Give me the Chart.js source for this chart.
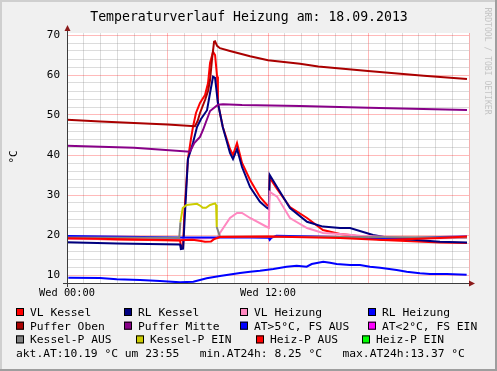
<!DOCTYPE html>
<html>
<head>
<meta charset="utf-8">
<script src="https://cdn.jsdelivr.net/npm/chart.js@4.4.0/dist/chart.umd.min.js"></script>
<style>
  html, body { margin: 0; padding: 0; background: #f0f0f0; }
  canvas { display: block; }
</style>
</head>
<body>
<canvas id="tempChart" width="497" height="371"></canvas>
<script>
// x = hours since 00:00 on 18.09.2013, y = temperature in °C
var vlKessel = [[0,19.2],[3,18.9],[6.75,18.6],[6.82,16.8],[6.93,17.0],[7.0,25],[7.22,39],[7.4,44],[7.52,47],[7.7,50.5],[7.94,53],[8.06,53.8],[8.24,55],[8.42,58],[8.54,63],[8.72,65.8],[8.84,65],[8.96,59.6],[9.01,53],[9.3,47],[9.73,41.5],[9.91,40],[10.15,43],[10.45,38],[10.93,33.75],[11.52,29.5],[11.94,27.5],[12.05,27.2],[12.1,34.3],[12.54,31.5],[13.31,27],[14.33,24.25],[15.28,21.25],[16.3,20.25],[16.9,20],[18.87,18.75],[22.27,18.1],[23.88,18]];
var rlKessel = [[0,18.2],[3,17.9],[6.75,17.6],[6.8,16.5],[6.93,16.6],[7.0,22],[7.22,39],[7.34,40.5],[7.52,43],[7.76,47],[8.0,49],[8.36,51.2],[8.54,55.5],[8.72,59.6],[8.84,59.3],[9.01,53],[9.3,47],[9.73,40.5],[9.91,39],[10.15,41.5],[10.45,37],[10.93,32],[11.52,28.3],[11.94,26.75],[12.05,26.5],[12.1,35],[12.54,32],[13.31,26.75],[14.33,23.3],[15.28,22.1],[16.3,21.75],[16.9,21.75],[18.27,20],[19.28,19.25],[22.27,18.3],[23.88,18.1]];
var vlHeizung = [[0,19.0],[6.75,18.9],[9.0,19.3],[9.13,20.5],[9.73,24.25],[10.15,25.5],[10.45,25.5],[10.93,24.25],[11.94,22],[12.05,21.8],[12.1,30.8],[12.54,29.6],[13.31,24.25],[14.33,21.75],[15.28,20.5],[16.3,20.25],[17.5,19.8],[20,19.4],[22.3,19.2],[23.88,19.3]];
var rlHeizung = [[0,19.75],[6.75,19.4],[10.93,19.4],[12.05,19.3],[12.1,18.8],[12.2,19.3],[12.5,19.8],[16.3,19.5],[19.28,19.0],[22.27,19.5],[23.88,19.6]];
var pufferOben = [[0,48.8],[2,48.4],[4,48.0],[6,47.6],[7.64,47.2],[7.8,48.5],[7.94,50.5],[8.24,53.75],[8.42,56],[8.54,58.75],[8.66,64],[8.78,68.3],[8.84,68.4],[8.96,67.3],[9.13,66.7],[9.73,66.0],[10.93,64.7],[12,63.7],[13.91,62.8],[15,62.1],[17.97,61],[21.3,59.8],[23.88,59.0]];
var pufferMitte = [[0,42.3],[4,41.8],[7.34,40.8],[7.6,43],[7.94,44.5],[8.12,46.25],[8.54,51],[9.01,52.6],[9.31,52.7],[10.45,52.5],[13.91,52.25],[18,51.8],[23.88,51.25]];
var atAus = [[0.08,9.33],[1.97,9.25],[2.97,8.92],[4.36,8.75],[5.55,8.5],[6.75,8.17],[7.54,8.33],[8.34,9.17],[9.13,9.75],[9.93,10.25],[10.33,10.5],[10.93,10.83],[11.52,11.08],[12.32,11.5],[13.11,12.08],[13.71,12.33],[14.31,12.08],[14.61,12.75],[15.3,13.3],[15.7,13.08],[16.1,12.75],[16.9,12.5],[17.49,12.5],[18.09,12.08],[18.69,11.83],[19.68,11.25],[20.28,10.83],[21.07,10.42],[21.67,10.25],[22.67,10.25],[23.86,10.08]];
var atEin = [];
var kesselPAus = [[0,19.4],[6.7,19.3],[6.77,23.2],[6.8,null],[8.94,22],[9.13,19.6],[23.88,19.4]];
var kesselPEin = [[6.77,23.2],[6.91,26.75],[7.14,27.5],[7.76,27.8],[8.0,27.2],[8.1,26.8],[8.3,26.8],[8.54,27.5],[8.84,27.9],[8.9,27.5],[8.94,22]];
var heizPAus = [[0,19.2],[6.75,18.7],[7.5,18.8],[8.0,18.5],[8.24,18.3],[8.6,18.4],[8.8,19.0],[9.13,19.5],[12,19.6],[16.3,19.25],[18.87,18.75],[22.27,19.25],[23.88,19.6]];
var heizPEin = [];

var seriesNames = ['VL Kessel', 'RL Kessel', 'VL Heizung', 'RL Heizung', 'Puffer Oben', 'Puffer Mitte',
  'AT>5°C, FS AUS', 'AT<2°C, FS EIN', 'Kessel-P AUS', 'Kessel-P EIN', 'Heiz-P AUS', 'Heiz-P EIN'];
var seriesData = [vlKessel, rlKessel, vlHeizung, rlHeizung, pufferOben, pufferMitte,
  atAus, atEin, kesselPAus, kesselPEin, heizPAus, heizPEin];
var seriesColors = ['#ff0000', '#000080', '#ff88c0', '#0000ff', '#aa0000', '#880088',
  '#0000ff', '#ff00ff', '#808080', '#cccc00', '#ff0000', '#00ff00'];

var xTickHours = [0, 12];
var xTickText = ['Wed 00:00', 'Wed 12:00'];
var yTickLabels = [10, 20, 30, 40, 50, 60, 70];

var titleText = 'Temperaturverlauf Heizung am: 18.09.2013';
var statsText = 'akt.AT:10.19 °C um 23:55   min.AT24h: 8.25 °C   max.AT24h:13.37 °C';

// legend swatch positions (x, text baseline)
var legendPos = [[16,316],[124,316],[240,316],[368,316],
                 [16,329.7],[124,329.7],[240,329.7],[368,329.7],
                 [16,343.4],[136,343.4],[256,343.4],[362,343.4]];

var mono = '"DejaVu Sans Mono", monospace';

var datasets = seriesNames.map(function(name, i) {
    return {
        label: name,
        data: seriesData[i].map(function(p) { return {x: p[0], y: p[1]}; }),
        borderColor: seriesColors[i],
        backgroundColor: seriesColors[i],
        borderWidth: 2,
        pointRadius: 0,
        tension: 0,
        spanGaps: false,
        order: 100 - i
    };
});

var rrdLook = {
    id: 'rrdLook',
    beforeDraw: function(chart) {
        var c = chart.ctx, a = chart.chartArea;
        c.save();
        c.fillStyle = '#f0f0f0';
        c.fillRect(0, 0, 497, 371);
        c.fillStyle = '#cfcfcf';
        c.fillRect(0, 0, 497, 2);
        c.fillRect(0, 0, 2, 371);
        c.fillStyle = '#9e9e9e';
        c.fillRect(0, 369, 497, 2);
        c.fillRect(495, 0, 2, 371);
        c.fillStyle = '#ffffff';
        c.fillRect(a.left, a.top, a.right - a.left, a.bottom - a.top);
        c.restore();
    },
    afterDraw: function(chart) {
        var c = chart.ctx, a = chart.chartArea;
        c.save();
        // axes
        c.strokeStyle = '#3c3c3c';
        c.lineWidth = 1;
        c.beginPath();
        c.moveTo(a.left - 4, a.bottom + 0.5);
        c.lineTo(a.right + 2, a.bottom + 0.5);
        c.moveTo(a.left + 0.5, a.bottom + 4);
        c.lineTo(a.left + 0.5, a.top - 4);
        c.stroke();
        c.fillStyle = '#8b1a1a';
        c.beginPath();
        c.moveTo(a.right, a.bottom - 2.5);
        c.lineTo(a.right + 6, a.bottom + 0.5);
        c.lineTo(a.right, a.bottom + 3.5);
        c.fill();
        c.beginPath();
        c.moveTo(a.left - 2.5, a.top - 2);
        c.lineTo(a.left + 0.5, a.top - 8);
        c.lineTo(a.left + 3.5, a.top - 2);
        c.fill();

        // title
        c.fillStyle = '#000';
        c.font = '13.2px ' + mono;
        c.textAlign = 'center';
        c.textBaseline = 'alphabetic';
        c.fillText(titleText, 249, 21);

        // unit label
        c.save();
        c.translate(14, 157);
        c.rotate(-Math.PI / 2);
        c.font = '11px ' + mono;
        c.textBaseline = 'middle';
        c.fillText('°C', 0, 0);
        c.restore();

        // watermark
        c.save();
        c.translate(487, 61);
        c.rotate(Math.PI / 2);
        c.font = '8.1px ' + mono;
        c.fillStyle = '#c4c4c4';
        c.textBaseline = 'middle';
        c.fillText('RRDTOOL / TOBI OETIKER', 0, 0);
        c.restore();

        // legend
        c.font = '11.3px ' + mono;
        c.textAlign = 'left';
        chart.data.datasets.forEach(function(ds, i) {
            var p = legendPos[i];
            c.fillStyle = ds.borderColor;
            c.fillRect(p[0], p[1] - 8, 8, 8);
            c.strokeStyle = '#000';
            c.strokeRect(p[0] + 0.5, p[1] - 7.5, 7, 7);
            c.fillStyle = '#000';
            c.fillText(ds.label, p[0] + 14, p[1]);
        });
        c.fillText(statsText, 16, 357);
        c.restore();
    }
};

var chart = new Chart(document.getElementById('tempChart').getContext('2d'), {
    type: 'line',
    data: { datasets: datasets },
    options: {
        responsive: false,
        animation: false,
        layout: { padding: { top: 33, right: 28, left: 0, bottom: 0 } },
        plugins: { legend: { display: false }, tooltip: { enabled: false }, title: { display: false } },
        scales: {
            x: {
                type: 'linear',
                min: 0,
                max: 24,
                afterFit: function(scale) { scale.height = 88; },
                border: { display: false },
                grid: {
                    drawTicks: false,
                    color: function(ctx) {
                        return ctx.tick && ctx.tick.value % 6 === 0 ? 'rgba(255,0,0,0.27)' : 'rgba(140,140,140,0.3)';
                    }
                },
                ticks: {
                    stepSize: 1,
                    autoSkip: false,
                    maxRotation: 0,
                    padding: 4,
                    color: '#000',
                    font: { family: mono, size: 10.3 },
                    callback: function(v) {
                        var k = xTickHours.indexOf(v);
                        return k >= 0 ? xTickText[k] : '';
                    }
                }
            },
            y: {
                min: 8,
                max: 70.5,
                afterFit: function(scale) { scale.width = 67; },
                afterBuildTicks: function(scale) {
                    var t = [];
                    for (var v = 8; v <= 70; v += 2) t.push({ value: v });
                    scale.ticks = t;
                },
                border: { display: false },
                grid: {
                    drawTicks: false,
                    color: function(ctx) {
                        return ctx.tick && ctx.tick.value % 10 === 0 ? 'rgba(255,0,0,0.27)' : 'rgba(140,140,140,0.3)';
                    }
                },
                ticks: {
                    autoSkip: false,
                    padding: 7,
                    color: '#000',
                    font: { family: mono, size: 11 },
                    callback: function(v) {
                        return yTickLabels.indexOf(v) >= 0 ? String(v) : '';
                    }
                }
            }
        }
    },
    plugins: [rrdLook]
});
</script>
</body>
</html>
